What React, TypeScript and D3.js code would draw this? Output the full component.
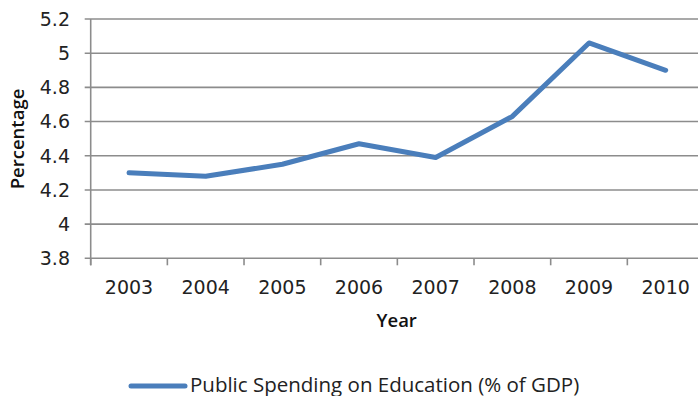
import React from "react";
import * as d3 from "d3";

const years = ["2003", "2004", "2005", "2006", "2007", "2008", "2009", "2010"];
const spending = [4.3, 4.28, 4.35, 4.47, 4.39, 4.63, 5.06, 4.9];
const yTicks = [3.8, 4, 4.2, 4.4, 4.6, 4.8, 5, 5.2];
const seriesName = "Public Spending on Education (% of GDP)";

const W = 698;
const H = 396;
const left = 90.7;
const right = 704;
const top = 19;
const bottom = 258.3;
const blue = "#4A7EBB";
const grid = "#8C8C8C";
const tickFont = "DejaVu Sans, Verdana, sans-serif";
const titleFont = "Open Sans, sans-serif";

export default function App() {
  const x = d3.scaleBand<string>().domain(years).range([left, right]).padding(0);
  const y = d3.scaleLinear().domain([3.8, 5.2]).range([bottom, top]);
  const line = d3
    .line<number>()
    .x((_, i) => (x(years[i]) as number) + x.bandwidth() / 2)
    .y((d) => y(d));
  const tickXs = years.map((yr) => x(yr) as number);
  return (
    <svg
      width={W}
      height={H}
      style={{ position: "absolute", left: 0, top: 0, background: "#fff" }}
    >
      {yTicks.map((t) => (
        <g key={t}>
          <line x1={left - 6} x2={right} y1={y(t)} y2={y(t)} stroke={grid} strokeWidth={1.6} />
          <text
            x={70}
            y={y(t)}
            dy="0.36em"
            textAnchor="end"
            fontFamily={tickFont}
            fontSize={19}
            fill="#222"
          >
            {t}
          </text>
        </g>
      ))}
      <line x1={left} x2={left} y1={top} y2={bottom + 7} stroke={grid} strokeWidth={1.6} />
      {tickXs.map((tx, i) => (
        <line key={i} x1={tx} x2={tx} y1={bottom} y2={bottom + 7} stroke={grid} strokeWidth={1.6} />
      ))}
      {years.map((yr) => (
        <text
          key={yr}
          x={(x(yr) as number) + x.bandwidth() / 2}
          y={294}
          textAnchor="middle"
          fontFamily={tickFont}
          fontSize={19}
          fill="#222"
        >
          {yr}
        </text>
      ))}
      <path
        d={line(spending) || ""}
        fill="none"
        stroke={blue}
        strokeWidth={5}
        strokeLinecap="round"
        strokeLinejoin="round"
      />
      <text
        x={396.7}
        y={327}
        textAnchor="middle"
        fontFamily={titleFont}
        fontWeight={600}
        fontSize={18.5}
        fill="#111"
      >
        Year
      </text>
      <text
        transform={`translate(24, 139) rotate(-90)`}
        textAnchor="middle"
        fontFamily={titleFont}
        fontWeight={600}
        fontSize={18.5}
        fill="#111"
      >
        Percentage
      </text>
      <line x1={131} x2={185} y1={386} y2={386} stroke={blue} strokeWidth={5} strokeLinecap="round" />
      <text x={190} y={392} fontFamily="Open Sans, sans-serif" fontSize={20.5} fill="#222">
        {seriesName}
      </text>
    </svg>
  );
}
